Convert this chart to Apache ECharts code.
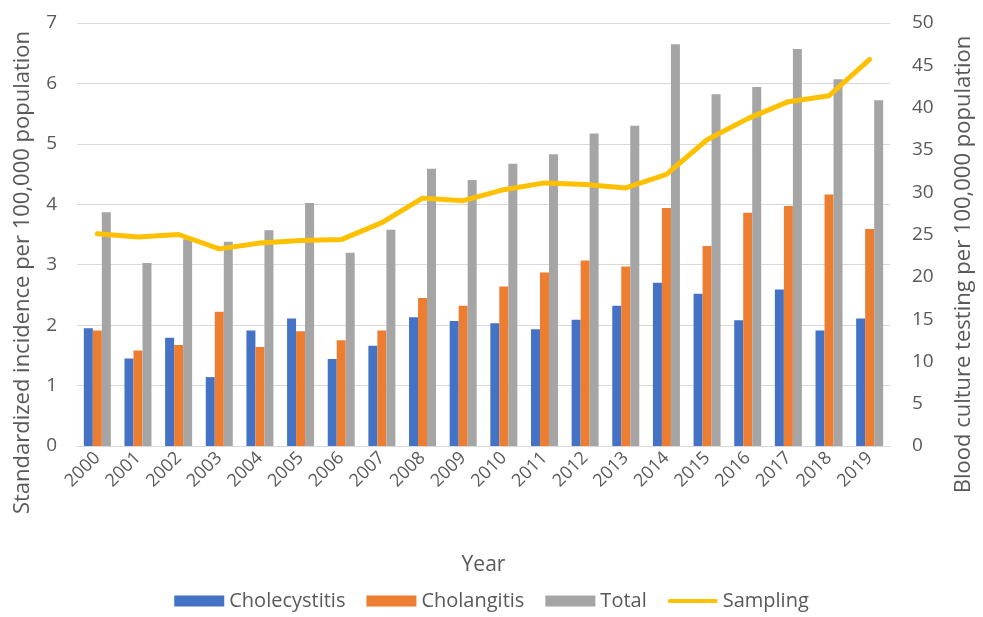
<!DOCTYPE html>
<html><head><meta charset="utf-8">
<script src="https://cdn.jsdelivr.net/npm/echarts@6/dist/echarts.min.js"></script>
<style>html,body{margin:0;padding:0;background:#fff}#c{width:983px;height:617px}</style>
</head><body><div id="c"></div>
<script>
const years = ['2000','2001','2002','2003','2004','2005','2006','2007','2008','2009','2010','2011','2012','2013','2014','2015','2016','2017','2018','2019'];
const cholecystitis = [1.95,1.45,1.79,1.14,1.91,2.11,1.44,1.66,2.13,2.07,2.03,1.93,2.09,2.32,2.70,2.52,2.08,2.59,1.91,2.11];
const cholangitis = [1.91,1.58,1.67,2.22,1.64,1.90,1.75,1.91,2.45,2.32,2.64,2.87,3.07,2.97,3.94,3.31,3.86,3.97,4.16,3.59];
const total = [3.87,3.03,3.42,3.38,3.57,4.02,3.20,3.58,4.59,4.40,4.67,4.83,5.17,5.30,6.65,5.82,5.94,6.57,6.07,5.72];
const sampling = [25.1,24.7,25.0,23.3,24.0,24.3,24.4,26.4,29.3,29.0,30.3,31.1,30.9,30.5,32.1,36.2,38.7,40.7,41.4,45.7];
const leftTicks = {min:0,max:7,interval:1};
const rightTicks = {min:0,max:50,interval:5};

const font = 'Open Sans';
const txt = '#595959';
const chart = echarts.init(document.getElementById('c'));
chart.setOption({
  animation:false,
  textStyle:{fontFamily:font,color:txt},
  grid:{left:77,right:85,top:23,bottom:171},
  legend:{
    bottom:1,left:'center',itemWidth:50,itemHeight:11,itemGap:21,
    textStyle:{fontFamily:font,fontSize:20,color:txt},
    data:[
      {name:'Cholecystitis',icon:'rect'},
      {name:'Cholangitis',icon:'rect'},
      {name:'Total',icon:'rect'},
      {name:'Sampling',icon:'path://M2,0 H48 A2,2 0 0 1 48,4 H2 A2,2 0 0 1 2,0 Z'}
    ]
  },
  xAxis:{
    type:'category',data:years,
    name:'Year',nameLocation:'middle',nameGap:109,
    nameTextStyle:{fontFamily:font,fontSize:21,color:txt},
    axisLine:{lineStyle:{color:'#D9D9D9'}},
    axisTick:{show:false},
    axisLabel:{rotate:45,fontSize:18,color:txt,margin:9,interval:0}
  },
  yAxis:[
    {type:'value',min:leftTicks.min,max:leftTicks.max,interval:leftTicks.interval,
     name:'Standardized incidence per 100,000 population',nameLocation:'middle',nameGap:43,
     nameTextStyle:{fontFamily:font,fontSize:22,color:txt,padding:[0,76,0,0]},
     axisLine:{show:false},axisTick:{show:false},
     axisLabel:{fontSize:19,color:txt,margin:20},
     splitLine:{lineStyle:{color:'#D9D9D9',width:1}}},
    {type:'value',min:rightTicks.min,max:rightTicks.max,interval:rightTicks.interval,
     name:'Blood culture testing per 100,000 population',nameLocation:'middle',nameGap:63,
     nameRotate:90,
     nameTextStyle:{fontFamily:font,fontSize:22,color:txt,padding:[0,60,0,0]},
     axisLine:{show:false},axisTick:{show:false},
     axisLabel:{fontSize:19,color:txt,margin:22},
     splitLine:{show:false}}
  ],
  series:[
    {name:'Cholecystitis',type:'bar',data:cholecystitis,barWidth:9,barGap:'0%',itemStyle:{color:'#4472C4'}},
    {name:'Cholangitis',type:'bar',data:cholangitis,barWidth:9,barGap:'0%',itemStyle:{color:'#ED7D31'}},
    {name:'Total',type:'bar',data:total,barWidth:9,barGap:'0%',itemStyle:{color:'#A5A5A5'}},
    {name:'Sampling',type:'line',yAxisIndex:1,data:sampling,symbol:'none',showSymbol:false,
     lineStyle:{color:'#FFC000',width:5,cap:'round',join:'round'},itemStyle:{color:'#FFC000'}}
  ]
});
</script></body></html>
